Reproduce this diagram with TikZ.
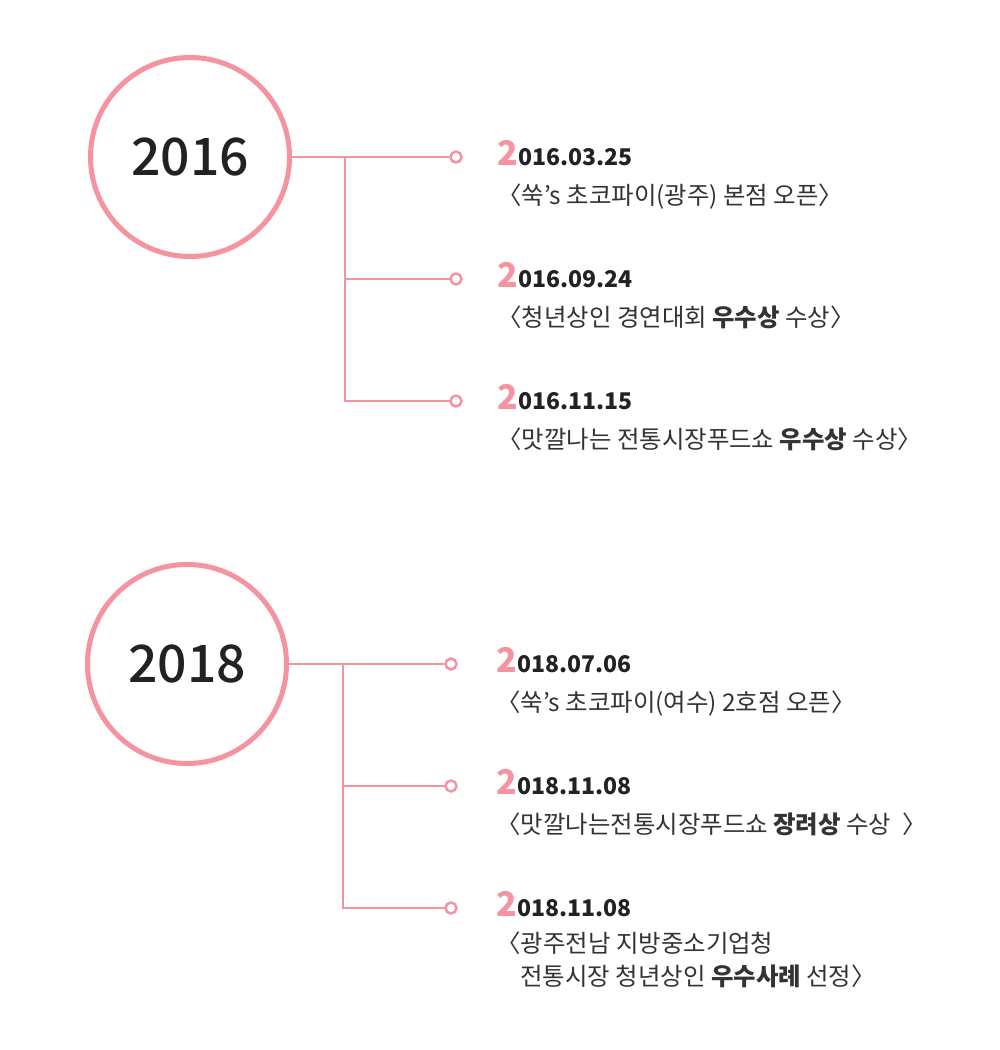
\documentclass[tikz,border=0pt]{standalone}
\usepackage{fontspec}
\setmainfont{Noto Sans CJK KR}
\newfontfamily\yearfont{Noto Sans CJK KR Medium}
\definecolor{pinkline}{RGB}{245,148,160}
\definecolor{textdark}{RGB}{34,34,34}
\definecolor{textbody}{RGB}{51,51,51}
\newcommand{\pinktwo}{{\color{pinkline}\fontsize{19.3pt}{20pt}\selectfont 2}}
\tikzset{
  yearcircle/.style={circle,draw=pinkline,line width=2.85pt,minimum size=3.98cm,
    inner sep=0pt,text=textdark,font=\yearfont\fontsize{29.4pt}{36pt}\selectfont},
  dotnode/.style={circle,draw=pinkline,line width=1.4pt,fill=white,
    minimum size=0.22cm,inner sep=0pt},
  link/.style={draw=pinkline,line width=1.7pt},
  datetext/.style={anchor=base west,inner sep=0pt,text=textdark,
    font=\bfseries\fontsize{13.1pt}{16pt}\selectfont},
  bodytext/.style={anchor=base west,inner sep=0pt,text=textbody,
    font=\fontsize{13.9pt}{16pt}\selectfont}
}
\begin{document}
\begin{tikzpicture}
  \useasboundingbox (0,0) rectangle (20,21);

  % 2016
  \coordinate (j161) at (6.9,17.86);
  \coordinate (j162) at (6.9,15.42);
  \coordinate (j163) at (6.9,12.98);
  \draw[link] (j161) -- (j163) -- (9.12,12.98);
  \draw[link] (j162) -- (9.12,15.42);
  \node[yearcircle] (y16) at (3.8,17.86) {2016};
  \node[dotnode] (d161) at (9.12,17.86) {};
  \node[dotnode] (d162) at (9.12,15.42) {};
  \node[dotnode] (d163) at (9.12,12.98) {};
  \draw[link] (y16) -- (d161);

  \node[datetext] (t161) at (9.94,17.68) {\pinktwo 016.03.25};
  \node[bodytext] (b161) at (9.94,16.90) {〈쑥’s 초코파이(광주) 본점 오픈〉};
  \node[datetext] (t162) at (9.94,15.24) {\pinktwo 016.09.24};
  \node[bodytext] (b162) at (9.94,14.46) {〈청년상인 경연대회 \textbf{우수상} 수상〉};
  \node[datetext] (t163) at (9.94,12.80) {\pinktwo 016.11.15};
  \node[bodytext] (b163) at (9.94,12.02) {〈맛깔나는 전통시장푸드쇼 \textbf{우수상} 수상〉};

  % 2018
  \coordinate (j181) at (6.86,7.72);
  \coordinate (j182) at (6.86,5.28);
  \coordinate (j183) at (6.86,2.84);
  \draw[link] (j181) -- (j183) -- (9.02,2.84);
  \draw[link] (j182) -- (9.02,5.28);
  \node[yearcircle] (y18) at (3.74,7.72) {2018};
  \node[dotnode] (d181) at (9.02,7.72) {};
  \node[dotnode] (d182) at (9.02,5.28) {};
  \node[dotnode] (d183) at (9.02,2.84) {};
  \draw[link] (y18) -- (d181);

  \node[datetext] (t181) at (9.92,7.54) {\pinktwo 018.07.06};
  \node[bodytext] (b181) at (9.92,6.76) {〈쑥’s 초코파이(여수) 2호점 오픈〉};
  \node[datetext] (t182) at (9.92,5.10) {\pinktwo 018.11.08};
  \node[bodytext] (b182) at (9.92,4.32) {〈맛깔나는전통시장푸드쇼 \textbf{장려상} 수상\ \ 〉};
  \node[datetext] (t183) at (9.92,2.66) {\pinktwo 018.11.08};
  \node[bodytext] (b183) at (9.92,1.94) {〈광주전남 지방중소기업청};
  \node[bodytext] (b184) at (10.40,1.28) {전통시장 청년상인 \textbf{우수사례} 선정〉};
\end{tikzpicture}
\end{document}
